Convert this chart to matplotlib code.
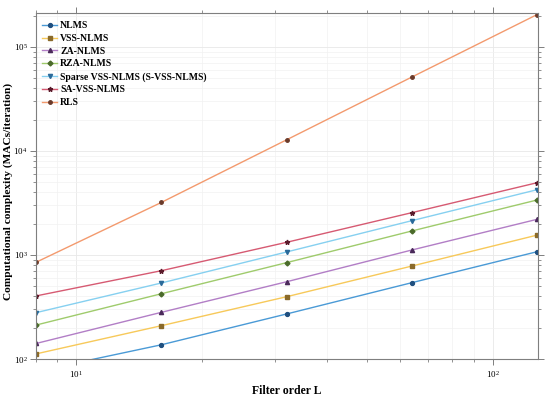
import matplotlib
matplotlib.use("Agg")
import matplotlib.pyplot as plt
from matplotlib.ticker import LogLocator, NullFormatter

plt.rcParams['font.family'] = ['Liberation Serif', 'DejaVu Serif']
plt.rcParams['mathtext.fontset'] = 'stix'

L = [8, 16, 32, 64, 128]
series_names = ["NLMS", "VSS-NLMS", "ZA-NLMS", "RZA-NLMS",
                "Sparse VSS-NLMS (S-VSS-NLMS)", "SA-VSS-NLMS", "RLS"]
nlms = [76, 137, 271, 542, 1076]
vss = [112, 209, 397, 783, 1554]
za = [141, 281, 553, 1117, 2204]
rza = [212, 424, 844, 1702, 3381]
svss = [279, 538, 1069, 2138, 4245]
savss = [404, 706, 1324, 2553, 4955]
rls = [851, 3200, 12800, 51400, 205000]
values = [nlms, vss, za, rza, svss, savss, rls]

line_colors = ['#4a9ad6', '#f7c95a', '#b27ec6', '#9fcb6c', '#86d0f0', '#d65a72', '#f39a6e']
marker_colors = ['#1f4f7f', '#8a6a2a', '#4a2a5a', '#4a6a2a', '#2a6a9a', '#5a1a2a', '#6a3a2a']
markers = ['o', 's', '^', 'D', 'v', '*', 'o']
msizes = [2.8, 2.5, 3.0, 2.5, 3.0, 3.5, 2.5]

fig = plt.figure(figsize=(5.5, 4.01), dpi=100)
ax = fig.add_axes([0.0655, 0.1047, 0.9125, 0.8629])

for name, v, lc, mc, m, ms in zip(series_names, values, line_colors, marker_colors, markers, msizes):
    ax.plot(L, v, color=lc, lw=1.0, marker=m, ms=ms, mfc=mc, mec=mc, label=name)

ax.set_xscale('log')
ax.set_yscale('log')
ax.set_xlim(8, 128.5)
ax.set_ylim(100, 2.12e5)

ax.xaxis.set_minor_locator(LogLocator(base=10, subs=range(2, 10)))
ax.yaxis.set_minor_locator(LogLocator(base=10, subs=range(2, 10)))
ax.xaxis.set_minor_formatter(NullFormatter())
ax.yaxis.set_minor_formatter(NullFormatter())

ax.grid(True, which='major', color='#e8e8e8', lw=0.6)
ax.grid(True, which='minor', color='#f2f2f2', lw=0.5)
ax.set_axisbelow(True)

for s in ax.spines.values():
    s.set_color('#7f7f7f')
    s.set_linewidth(0.8)

ax.tick_params(which='both', direction='out', top=True, right=True,
               colors='#7f7f7f', labelcolor='black', labelsize=6.5)
ax.tick_params(which='major', length=4, width=0.7)
ax.tick_params(which='minor', length=2.5, width=0.6)
ax.tick_params(axis='y', which='major', pad=2)

ax.set_xlabel('Filter order L', fontsize=8.5, fontweight='bold')
ax.set_ylabel('Computational complexity (MACs/iteration)', fontsize=8.2, fontweight='bold')
ax.xaxis.set_label_coords(0.5, -0.075)
ax.yaxis.set_label_coords(-0.046, 0.485)

leg = ax.legend(loc='upper left', frameon=False,
                prop={'weight': 'bold', 'size': 7}, handlelength=1.6,
                handletextpad=0.3, labelspacing=0.38, borderaxespad=0.45,
                bbox_to_anchor=(-0.005, 1.0))

fig.savefig('out.png', dpi=100)
